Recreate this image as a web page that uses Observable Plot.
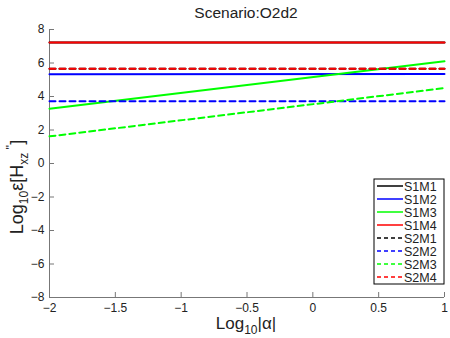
<!DOCTYPE html>
<html><head><meta charset="utf-8">
<script src="https://cdn.jsdelivr.net/npm/d3@7"></script>
<script src="https://cdn.jsdelivr.net/npm/@observablehq/plot@0.6"></script>
<style>
body{margin:0;background:#fff;font-family:"Liberation Sans",Arial,sans-serif;}
#wrap{position:relative;width:450px;height:338px;}
</style></head>
<body><div id="wrap"></div>
<script>
const seriesNames = ["S1M1","S1M2","S1M3","S1M4","S2M1","S2M2","S2M3","S2M4"];
const seriesColors = ["#000000","#0000ff","#00ff00","#ff0000","#000000","#0000ff","#00ff00","#ff0000"];
const seriesDashed = [false,false,false,false,true,true,true,true];
const xValues = [-2, 1];
const S1M1 = [7.22, 7.22];
const S1M2 = [5.33, 5.35];
const S1M3 = [3.27, 6.1];
const S1M4 = [7.22, 7.22];
const S2M1 = [5.65, 5.65];
const S2M2 = [3.72, 3.72];
const S2M3 = [1.62, 4.5];
const S2M4 = [5.65, 5.65];
const seriesValues = [S1M1,S1M2,S1M3,S1M4,S2M1,S2M2,S2M3,S2M4];
const xTicks = [-2,-1.5,-1,-0.5,0,0.5,1];
const xTickLabels = ["\u22122","\u22121.5","\u22121","\u22120.5","0","0.5","1"];
const yTicks = [-8,-6,-4,-2,0,2,4,6,8];
const yTickLabels = ["\u22128","\u22126","\u22124","\u22122","0","2","4","6","8"];

const rows = [];
seriesNames.forEach((n,i)=>xValues.forEach((x,j)=>rows.push({series:n,x,y:seriesValues[i][j],idx:i})));

const axisColor = "#777";
const ml=49, mr=6, mt=29, mb=41, W=450, H=338;
const pxX = 3/(W-ml-mr), pxY = 16/(H-mt-mb);

const marks = [
  Plot.ruleY([-8],{x1:-2,x2:1,stroke:axisColor}),
  Plot.ruleX([-2],{y1:-8,y2:8,stroke:axisColor}),
  Plot.ruleX(xTicks,{y1:-8,y2:-8+5*pxY,stroke:axisColor}),
  Plot.ruleY(yTicks,{x1:-2,x2:-2+5*pxX,stroke:axisColor}),
  Plot.text(xTicks,{x:d=>d,y:-8,text:(d,i)=>xTickLabels[i],dy:11,fontSize:12,fill:"#222"}),
  Plot.text(yTicks,{x:-2,y:d=>d,text:(d,i)=>yTickLabels[i],dx:-5,textAnchor:"end",fontSize:12,fill:"#222"})
];
seriesNames.forEach((n,i)=>{
  marks.push(Plot.line(rows.filter(r=>r.series===n),{x:"x",y:"y",stroke:seriesColors[i],strokeWidth:2,strokeDasharray:seriesDashed[i]?"6,4":null}));
});

const plot = Plot.plot({
  width:W,height:H,marginLeft:ml,marginRight:mr,marginTop:mt,marginBottom:mb,
  x:{domain:[-2,1],axis:null},
  y:{domain:[-8,8],axis:null},
  style:{fontFamily:"'Liberation Sans',Arial,sans-serif",background:"#fff"},
  marks
});
document.getElementById("wrap").appendChild(plot);

const svg = d3.select(plot);
// title
svg.append("text").attr("x",246).attr("y",18).attr("text-anchor","middle")
  .attr("font-size",15.5).attr("fill","#222").text("Scenario:O2d2");
// x label
const xl = svg.append("text").attr("x",246).attr("y",329).attr("text-anchor","middle").attr("font-size",17).attr("fill","#222");
xl.append("tspan").text("Log");
xl.append("tspan").attr("font-size",12).attr("dy",5).text("10");
xl.append("tspan").attr("dy",-5).text("|\u03b1|");
// y label
const yl = svg.append("text").attr("transform","translate(23,187) rotate(-90)").attr("text-anchor","middle").attr("font-size",18).attr("fill","#222");
yl.append("tspan").text("Log");
yl.append("tspan").attr("font-size",12).attr("dy",5).text("10");
yl.append("tspan").attr("dy",-5).text("\u03b5[H");
yl.append("tspan").attr("font-size",12).attr("dy",5).text("xz");
yl.append("tspan").attr("font-size",12).attr("dy",-13).text(" ''");
yl.append("tspan").attr("dy",8).text("]");
// legend
const lg = svg.append("g").attr("transform","translate(374,179)").attr("text-anchor","start");
lg.append("rect").attr("width",70).attr("height",105).attr("fill","#fff").attr("stroke","#000").attr("stroke-width",1);
seriesNames.forEach((n,i)=>{
  const yy = 7 + i*13;
  lg.append("line").attr("x1",3).attr("x2",29).attr("y1",yy).attr("y2",yy)
    .attr("stroke",seriesColors[i]).attr("stroke-width",1.5).attr("stroke-dasharray",seriesDashed[i]?"4,3":null);
  lg.append("text").attr("x",30).attr("y",yy+4.5).attr("text-anchor","start").attr("font-size",12.5).attr("fill","#222").text(n);
});
</script></body></html>
